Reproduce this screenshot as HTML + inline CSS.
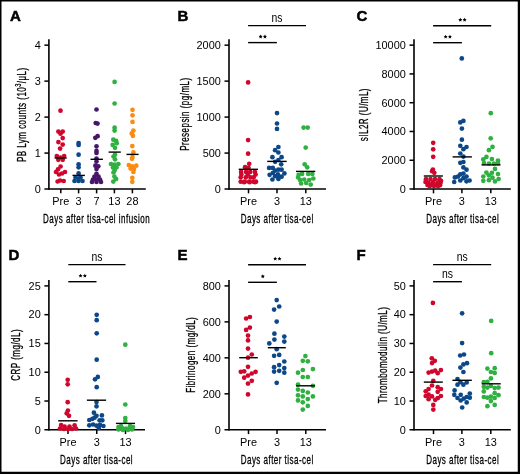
<!DOCTYPE html>
<html><head><meta charset="utf-8"><style>
html,body{margin:0;padding:0;background:#fff;}
body{width:520px;height:474px;overflow:hidden;position:relative;}
svg{position:absolute;left:0;top:0;will-change:transform;}
text{font-family:"Liberation Sans", sans-serif;fill:#000;}
</style></head><body>
<svg width="520" height="474" viewBox="0 0 520 474">
<rect x="0" y="0" width="520" height="474" fill="#fff"/>
<text transform="translate(10.10,21.10)" font-size="15.0" text-anchor="start" font-weight="bold" stroke="#000" stroke-width="0.5">A</text>
<line x1="48.90" y1="39.15" x2="48.90" y2="189.70" stroke="#000" stroke-width="1.6"/>
<line x1="44.40" y1="189.05" x2="145.80" y2="189.05" stroke="#000" stroke-width="1.6"/>
<text transform="translate(40.70,192.85)" font-size="10.9" text-anchor="end" font-weight="normal" >0</text>
<line x1="44.40" y1="153.08" x2="48.90" y2="153.08" stroke="#000" stroke-width="1.5"/>
<text transform="translate(40.70,156.88)" font-size="10.9" text-anchor="end" font-weight="normal" >1</text>
<line x1="44.40" y1="117.10" x2="48.90" y2="117.10" stroke="#000" stroke-width="1.5"/>
<text transform="translate(40.70,120.90)" font-size="10.9" text-anchor="end" font-weight="normal" >2</text>
<line x1="44.40" y1="81.12" x2="48.90" y2="81.12" stroke="#000" stroke-width="1.5"/>
<text transform="translate(40.70,84.92)" font-size="10.9" text-anchor="end" font-weight="normal" >3</text>
<line x1="44.40" y1="45.15" x2="48.90" y2="45.15" stroke="#000" stroke-width="1.5"/>
<text transform="translate(40.70,48.95)" font-size="10.9" text-anchor="end" font-weight="normal" >4</text>
<line x1="60.80" y1="189.05" x2="60.80" y2="193.35" stroke="#000" stroke-width="1.5"/>
<text transform="translate(60.80,205.05)" font-size="10.9" text-anchor="middle" font-weight="normal" >Pre</text>
<line x1="78.60" y1="189.05" x2="78.60" y2="193.35" stroke="#000" stroke-width="1.5"/>
<text transform="translate(78.60,205.05)" font-size="10.9" text-anchor="middle" font-weight="normal" >3</text>
<line x1="96.60" y1="189.05" x2="96.60" y2="193.35" stroke="#000" stroke-width="1.5"/>
<text transform="translate(96.60,205.05)" font-size="10.9" text-anchor="middle" font-weight="normal" >7</text>
<line x1="114.40" y1="189.05" x2="114.40" y2="193.35" stroke="#000" stroke-width="1.5"/>
<text transform="translate(114.40,205.05)" font-size="10.9" text-anchor="middle" font-weight="normal" >13</text>
<line x1="132.40" y1="189.05" x2="132.40" y2="193.35" stroke="#000" stroke-width="1.5"/>
<text transform="translate(132.40,205.05)" font-size="10.9" text-anchor="middle" font-weight="normal" >28</text>
<text transform="translate(26.20,114.70) rotate(-90) scale(0.63,1)" font-size="12.7" text-anchor="middle" font-weight="normal" stroke="#000" stroke-width="0.3" letter-spacing="0.75">PB Lym counts (10<tspan dy="-5.5" font-size="9">3</tspan><tspan dy="5.5">/μL)</tspan></text>
<text transform="translate(96.60,223.05) scale(0.63,1)" font-size="12.7" text-anchor="middle" font-weight="normal" stroke="#000" stroke-width="0.3" letter-spacing="0.75">Days after tisa-cel infusion</text>
<text transform="translate(177.40,21.40)" font-size="15.0" text-anchor="start" font-weight="bold" stroke="#000" stroke-width="0.5">B</text>
<line x1="229.00" y1="39.15" x2="229.00" y2="189.70" stroke="#000" stroke-width="1.6"/>
<line x1="224.50" y1="189.05" x2="326.00" y2="189.05" stroke="#000" stroke-width="1.6"/>
<text transform="translate(220.80,192.85)" font-size="10.9" text-anchor="end" font-weight="normal" >0</text>
<line x1="224.50" y1="153.08" x2="229.00" y2="153.08" stroke="#000" stroke-width="1.5"/>
<text transform="translate(220.80,156.88)" font-size="10.9" text-anchor="end" font-weight="normal" >500</text>
<line x1="224.50" y1="117.10" x2="229.00" y2="117.10" stroke="#000" stroke-width="1.5"/>
<text transform="translate(220.80,120.90)" font-size="10.9" text-anchor="end" font-weight="normal" >1000</text>
<line x1="224.50" y1="81.12" x2="229.00" y2="81.12" stroke="#000" stroke-width="1.5"/>
<text transform="translate(220.80,84.92)" font-size="10.9" text-anchor="end" font-weight="normal" >1500</text>
<line x1="224.50" y1="45.15" x2="229.00" y2="45.15" stroke="#000" stroke-width="1.5"/>
<text transform="translate(220.80,48.95)" font-size="10.9" text-anchor="end" font-weight="normal" >2000</text>
<line x1="248.50" y1="189.05" x2="248.50" y2="193.35" stroke="#000" stroke-width="1.5"/>
<text transform="translate(248.50,205.05)" font-size="10.9" text-anchor="middle" font-weight="normal" >Pre</text>
<line x1="277.00" y1="189.05" x2="277.00" y2="193.35" stroke="#000" stroke-width="1.5"/>
<text transform="translate(277.00,205.05)" font-size="10.9" text-anchor="middle" font-weight="normal" >3</text>
<line x1="305.80" y1="189.05" x2="305.80" y2="193.35" stroke="#000" stroke-width="1.5"/>
<text transform="translate(305.80,205.05)" font-size="10.9" text-anchor="middle" font-weight="normal" >13</text>
<text transform="translate(188.70,114.10) rotate(-90) scale(0.63,1)" font-size="12.7" text-anchor="middle" font-weight="normal" stroke="#000" stroke-width="0.3" letter-spacing="0.75">Presepsin (pg/mL)</text>
<text transform="translate(277.20,223.05) scale(0.63,1)" font-size="12.7" text-anchor="middle" font-weight="normal" stroke="#000" stroke-width="0.3" letter-spacing="0.75">Days after tisa-cel</text>
<line x1="248.10" y1="25.60" x2="306.00" y2="25.60" stroke="#000" stroke-width="1.4"/>
<text transform="translate(277.05,21.70) scale(0.82,1)" font-size="12.7" text-anchor="middle" font-weight="normal" >ns</text>
<line x1="248.10" y1="42.60" x2="276.90" y2="42.60" stroke="#000" stroke-width="1.4"/>
<polygon points="260.65,34.60 261.27,35.85 262.65,36.05 261.65,37.02 261.88,38.40 260.65,37.75 259.42,38.40 259.65,37.02 258.65,36.05 260.03,35.85" fill="#000"/>
<polygon points="264.95,34.60 265.57,35.85 266.95,36.05 265.95,37.02 266.18,38.40 264.95,37.75 263.72,38.40 263.95,37.02 262.95,36.05 264.33,35.85" fill="#000"/>
<text transform="translate(356.40,20.60)" font-size="15.0" text-anchor="start" font-weight="bold" stroke="#000" stroke-width="0.5">C</text>
<line x1="414.00" y1="39.15" x2="414.00" y2="189.70" stroke="#000" stroke-width="1.6"/>
<line x1="409.50" y1="189.05" x2="510.80" y2="189.05" stroke="#000" stroke-width="1.6"/>
<text transform="translate(405.80,192.85)" font-size="10.9" text-anchor="end" font-weight="normal" >0</text>
<line x1="409.50" y1="160.27" x2="414.00" y2="160.27" stroke="#000" stroke-width="1.5"/>
<text transform="translate(405.80,164.07)" font-size="10.9" text-anchor="end" font-weight="normal" >2000</text>
<line x1="409.50" y1="131.49" x2="414.00" y2="131.49" stroke="#000" stroke-width="1.5"/>
<text transform="translate(405.80,135.29)" font-size="10.9" text-anchor="end" font-weight="normal" >4000</text>
<line x1="409.50" y1="102.71" x2="414.00" y2="102.71" stroke="#000" stroke-width="1.5"/>
<text transform="translate(405.80,106.51)" font-size="10.9" text-anchor="end" font-weight="normal" >6000</text>
<line x1="409.50" y1="73.93" x2="414.00" y2="73.93" stroke="#000" stroke-width="1.5"/>
<text transform="translate(405.80,77.73)" font-size="10.9" text-anchor="end" font-weight="normal" >8000</text>
<line x1="409.50" y1="45.15" x2="414.00" y2="45.15" stroke="#000" stroke-width="1.5"/>
<text transform="translate(405.80,48.95)" font-size="10.9" text-anchor="end" font-weight="normal" >10000</text>
<line x1="433.50" y1="189.05" x2="433.50" y2="193.35" stroke="#000" stroke-width="1.5"/>
<text transform="translate(433.50,205.05)" font-size="10.9" text-anchor="middle" font-weight="normal" >Pre</text>
<line x1="461.90" y1="189.05" x2="461.90" y2="193.35" stroke="#000" stroke-width="1.5"/>
<text transform="translate(461.90,205.05)" font-size="10.9" text-anchor="middle" font-weight="normal" >3</text>
<line x1="490.80" y1="189.05" x2="490.80" y2="193.35" stroke="#000" stroke-width="1.5"/>
<text transform="translate(490.80,205.05)" font-size="10.9" text-anchor="middle" font-weight="normal" >13</text>
<text transform="translate(368.30,114.60) rotate(-90) scale(0.63,1)" font-size="12.7" text-anchor="middle" font-weight="normal" stroke="#000" stroke-width="0.3" letter-spacing="0.75">sIL2R (U/mL)</text>
<text transform="translate(462.70,223.05) scale(0.63,1)" font-size="12.7" text-anchor="middle" font-weight="normal" stroke="#000" stroke-width="0.3" letter-spacing="0.75">Days after tisa-cel</text>
<line x1="433.10" y1="25.80" x2="491.20" y2="25.80" stroke="#000" stroke-width="1.4"/>
<polygon points="460.30,17.80 460.92,19.05 462.30,19.25 461.30,20.22 461.53,21.60 460.30,20.95 459.07,21.60 459.30,20.22 458.30,19.25 459.68,19.05" fill="#000"/>
<polygon points="464.60,17.80 465.22,19.05 466.60,19.25 465.60,20.22 465.83,21.60 464.60,20.95 463.37,21.60 463.60,20.22 462.60,19.25 463.98,19.05" fill="#000"/>
<line x1="433.10" y1="42.70" x2="461.90" y2="42.70" stroke="#000" stroke-width="1.4"/>
<polygon points="445.65,34.70 446.27,35.95 447.65,36.15 446.65,37.12 446.88,38.50 445.65,37.85 444.42,38.50 444.65,37.12 443.65,36.15 445.03,35.95" fill="#000"/>
<polygon points="449.95,34.70 450.57,35.95 451.95,36.15 450.95,37.12 451.18,38.50 449.95,37.85 448.72,38.50 448.95,37.12 447.95,36.15 449.33,35.95" fill="#000"/>
<text transform="translate(8.50,260.00)" font-size="15.0" text-anchor="start" font-weight="bold" stroke="#000" stroke-width="0.5">D</text>
<line x1="48.90" y1="279.90" x2="48.90" y2="430.45" stroke="#000" stroke-width="1.6"/>
<line x1="44.40" y1="429.80" x2="145.00" y2="429.80" stroke="#000" stroke-width="1.6"/>
<text transform="translate(40.70,433.60)" font-size="10.9" text-anchor="end" font-weight="normal" >0</text>
<line x1="44.40" y1="401.02" x2="48.90" y2="401.02" stroke="#000" stroke-width="1.5"/>
<text transform="translate(40.70,404.82)" font-size="10.9" text-anchor="end" font-weight="normal" >5</text>
<line x1="44.40" y1="372.24" x2="48.90" y2="372.24" stroke="#000" stroke-width="1.5"/>
<text transform="translate(40.70,376.04)" font-size="10.9" text-anchor="end" font-weight="normal" >10</text>
<line x1="44.40" y1="343.46" x2="48.90" y2="343.46" stroke="#000" stroke-width="1.5"/>
<text transform="translate(40.70,347.26)" font-size="10.9" text-anchor="end" font-weight="normal" >15</text>
<line x1="44.40" y1="314.68" x2="48.90" y2="314.68" stroke="#000" stroke-width="1.5"/>
<text transform="translate(40.70,318.48)" font-size="10.9" text-anchor="end" font-weight="normal" >20</text>
<line x1="44.40" y1="285.90" x2="48.90" y2="285.90" stroke="#000" stroke-width="1.5"/>
<text transform="translate(40.70,289.70)" font-size="10.9" text-anchor="end" font-weight="normal" >25</text>
<line x1="68.00" y1="429.80" x2="68.00" y2="434.10" stroke="#000" stroke-width="1.5"/>
<text transform="translate(68.00,445.80)" font-size="10.9" text-anchor="middle" font-weight="normal" >Pre</text>
<line x1="96.75" y1="429.80" x2="96.75" y2="434.10" stroke="#000" stroke-width="1.5"/>
<text transform="translate(96.75,445.80)" font-size="10.9" text-anchor="middle" font-weight="normal" >3</text>
<line x1="125.50" y1="429.80" x2="125.50" y2="434.10" stroke="#000" stroke-width="1.5"/>
<text transform="translate(125.50,445.80)" font-size="10.9" text-anchor="middle" font-weight="normal" >13</text>
<text transform="translate(20.20,354.80) rotate(-90) scale(0.63,1)" font-size="12.7" text-anchor="middle" font-weight="normal" stroke="#000" stroke-width="0.3" letter-spacing="0.75">CRP (mg/dL)</text>
<text transform="translate(96.60,463.80) scale(0.63,1)" font-size="12.7" text-anchor="middle" font-weight="normal" stroke="#000" stroke-width="0.3" letter-spacing="0.75">Days after tisa-cel</text>
<line x1="68.30" y1="264.60" x2="125.50" y2="264.60" stroke="#000" stroke-width="1.4"/>
<text transform="translate(96.90,260.70) scale(0.82,1)" font-size="12.7" text-anchor="middle" font-weight="normal" >ns</text>
<line x1="68.30" y1="281.70" x2="96.50" y2="281.70" stroke="#000" stroke-width="1.4"/>
<polygon points="80.55,273.70 81.17,274.95 82.55,275.15 81.55,276.12 81.78,277.50 80.55,276.85 79.32,277.50 79.55,276.12 78.55,275.15 79.93,274.95" fill="#000"/>
<polygon points="84.85,273.70 85.47,274.95 86.85,275.15 85.85,276.12 86.08,277.50 84.85,276.85 83.62,277.50 83.85,276.12 82.85,275.15 84.23,274.95" fill="#000"/>
<text transform="translate(177.40,260.40)" font-size="15.0" text-anchor="start" font-weight="bold" stroke="#000" stroke-width="0.5">E</text>
<line x1="229.00" y1="279.90" x2="229.00" y2="430.45" stroke="#000" stroke-width="1.6"/>
<line x1="224.50" y1="429.80" x2="326.00" y2="429.80" stroke="#000" stroke-width="1.6"/>
<text transform="translate(220.80,433.60)" font-size="10.9" text-anchor="end" font-weight="normal" >0</text>
<line x1="224.50" y1="393.82" x2="229.00" y2="393.82" stroke="#000" stroke-width="1.5"/>
<text transform="translate(220.80,397.62)" font-size="10.9" text-anchor="end" font-weight="normal" >200</text>
<line x1="224.50" y1="357.85" x2="229.00" y2="357.85" stroke="#000" stroke-width="1.5"/>
<text transform="translate(220.80,361.65)" font-size="10.9" text-anchor="end" font-weight="normal" >400</text>
<line x1="224.50" y1="321.88" x2="229.00" y2="321.88" stroke="#000" stroke-width="1.5"/>
<text transform="translate(220.80,325.68)" font-size="10.9" text-anchor="end" font-weight="normal" >600</text>
<line x1="224.50" y1="285.90" x2="229.00" y2="285.90" stroke="#000" stroke-width="1.5"/>
<text transform="translate(220.80,289.70)" font-size="10.9" text-anchor="end" font-weight="normal" >800</text>
<line x1="248.50" y1="429.80" x2="248.50" y2="434.10" stroke="#000" stroke-width="1.5"/>
<text transform="translate(248.50,445.80)" font-size="10.9" text-anchor="middle" font-weight="normal" >Pre</text>
<line x1="277.00" y1="429.80" x2="277.00" y2="434.10" stroke="#000" stroke-width="1.5"/>
<text transform="translate(277.00,445.80)" font-size="10.9" text-anchor="middle" font-weight="normal" >3</text>
<line x1="305.80" y1="429.80" x2="305.80" y2="434.10" stroke="#000" stroke-width="1.5"/>
<text transform="translate(305.80,445.80)" font-size="10.9" text-anchor="middle" font-weight="normal" >13</text>
<text transform="translate(195.20,354.80) rotate(-90) scale(0.63,1)" font-size="12.7" text-anchor="middle" font-weight="normal" stroke="#000" stroke-width="0.3" letter-spacing="0.75">Fibrinogen (mg/dL)</text>
<text transform="translate(277.20,463.80) scale(0.63,1)" font-size="12.7" text-anchor="middle" font-weight="normal" stroke="#000" stroke-width="0.3" letter-spacing="0.75">Days after tisa-cel</text>
<line x1="248.10" y1="264.70" x2="306.00" y2="264.70" stroke="#000" stroke-width="1.4"/>
<polygon points="275.20,256.70 275.82,257.95 277.20,258.15 276.20,259.12 276.43,260.50 275.20,259.85 273.97,260.50 274.20,259.12 273.20,258.15 274.58,257.95" fill="#000"/>
<polygon points="279.50,256.70 280.12,257.95 281.50,258.15 280.50,259.12 280.73,260.50 279.50,259.85 278.27,260.50 278.50,259.12 277.50,258.15 278.88,257.95" fill="#000"/>
<line x1="248.10" y1="282.30" x2="276.90" y2="282.30" stroke="#000" stroke-width="1.4"/>
<polygon points="262.80,274.30 263.42,275.55 264.80,275.75 263.80,276.72 264.03,278.10 262.80,277.45 261.57,278.10 261.80,276.72 260.80,275.75 262.18,275.55" fill="#000"/>
<text transform="translate(356.50,260.40)" font-size="15.0" text-anchor="start" font-weight="bold" stroke="#000" stroke-width="0.5">F</text>
<line x1="414.00" y1="279.90" x2="414.00" y2="430.45" stroke="#000" stroke-width="1.6"/>
<line x1="409.50" y1="429.80" x2="510.80" y2="429.80" stroke="#000" stroke-width="1.6"/>
<text transform="translate(405.80,433.60)" font-size="10.9" text-anchor="end" font-weight="normal" >0</text>
<line x1="409.50" y1="401.02" x2="414.00" y2="401.02" stroke="#000" stroke-width="1.5"/>
<text transform="translate(405.80,404.82)" font-size="10.9" text-anchor="end" font-weight="normal" >10</text>
<line x1="409.50" y1="372.24" x2="414.00" y2="372.24" stroke="#000" stroke-width="1.5"/>
<text transform="translate(405.80,376.04)" font-size="10.9" text-anchor="end" font-weight="normal" >20</text>
<line x1="409.50" y1="343.46" x2="414.00" y2="343.46" stroke="#000" stroke-width="1.5"/>
<text transform="translate(405.80,347.26)" font-size="10.9" text-anchor="end" font-weight="normal" >30</text>
<line x1="409.50" y1="314.68" x2="414.00" y2="314.68" stroke="#000" stroke-width="1.5"/>
<text transform="translate(405.80,318.48)" font-size="10.9" text-anchor="end" font-weight="normal" >40</text>
<line x1="409.50" y1="285.90" x2="414.00" y2="285.90" stroke="#000" stroke-width="1.5"/>
<text transform="translate(405.80,289.70)" font-size="10.9" text-anchor="end" font-weight="normal" >50</text>
<line x1="433.50" y1="429.80" x2="433.50" y2="434.10" stroke="#000" stroke-width="1.5"/>
<text transform="translate(433.50,445.80)" font-size="10.9" text-anchor="middle" font-weight="normal" >Pre</text>
<line x1="461.90" y1="429.80" x2="461.90" y2="434.10" stroke="#000" stroke-width="1.5"/>
<text transform="translate(461.90,445.80)" font-size="10.9" text-anchor="middle" font-weight="normal" >3</text>
<line x1="490.80" y1="429.80" x2="490.80" y2="434.10" stroke="#000" stroke-width="1.5"/>
<text transform="translate(490.80,445.80)" font-size="10.9" text-anchor="middle" font-weight="normal" >13</text>
<text transform="translate(387.40,355.00) rotate(-90) scale(0.63,1)" font-size="12.7" text-anchor="middle" font-weight="normal" stroke="#000" stroke-width="0.3" letter-spacing="0.75">Thrombomodulin (U/mL)</text>
<text transform="translate(462.70,463.80) scale(0.63,1)" font-size="12.7" text-anchor="middle" font-weight="normal" stroke="#000" stroke-width="0.3" letter-spacing="0.75">Days after tisa-cel</text>
<line x1="433.10" y1="264.60" x2="491.20" y2="264.60" stroke="#000" stroke-width="1.4"/>
<text transform="translate(462.15,260.70) scale(0.82,1)" font-size="12.7" text-anchor="middle" font-weight="normal" >ns</text>
<line x1="433.10" y1="281.70" x2="461.90" y2="281.70" stroke="#000" stroke-width="1.4"/>
<text transform="translate(447.50,277.80) scale(0.82,1)" font-size="12.7" text-anchor="middle" font-weight="normal" >ns</text>
<circle cx="60.5" cy="110.7" r="2.35" fill="#d0062c"/>
<circle cx="58.4" cy="131.6" r="2.35" fill="#d0062c"/>
<circle cx="62.7" cy="131.6" r="2.35" fill="#d0062c"/>
<circle cx="60.5" cy="133.7" r="2.35" fill="#d0062c"/>
<circle cx="62.7" cy="138.1" r="2.35" fill="#d0062c"/>
<circle cx="58.4" cy="142.1" r="2.35" fill="#d0062c"/>
<circle cx="62.7" cy="144.6" r="2.35" fill="#d0062c"/>
<circle cx="60.1" cy="148.6" r="2.35" fill="#d0062c"/>
<circle cx="56.8" cy="156.0" r="2.35" fill="#d0062c"/>
<circle cx="60.5" cy="157.5" r="2.35" fill="#d0062c"/>
<circle cx="64.2" cy="156.0" r="2.35" fill="#d0062c"/>
<circle cx="58.3" cy="159.8" r="2.35" fill="#d0062c"/>
<circle cx="62.7" cy="159.8" r="2.35" fill="#d0062c"/>
<circle cx="60.6" cy="166.5" r="2.35" fill="#d0062c"/>
<circle cx="58.0" cy="169.3" r="2.35" fill="#d0062c"/>
<circle cx="56.0" cy="172.0" r="2.35" fill="#d0062c"/>
<circle cx="59.0" cy="174.5" r="2.35" fill="#d0062c"/>
<circle cx="62.0" cy="173.5" r="2.35" fill="#d0062c"/>
<circle cx="65.0" cy="172.0" r="2.35" fill="#d0062c"/>
<circle cx="57.6" cy="181.5" r="2.35" fill="#d0062c"/>
<circle cx="60.1" cy="180.5" r="2.35" fill="#d0062c"/>
<circle cx="63.7" cy="181.0" r="2.35" fill="#d0062c"/>
<circle cx="78.6" cy="143.0" r="2.35" fill="#0c4788"/>
<circle cx="78.6" cy="145.0" r="2.35" fill="#0c4788"/>
<circle cx="78.6" cy="154.7" r="2.35" fill="#0c4788"/>
<circle cx="78.6" cy="164.3" r="2.35" fill="#0c4788"/>
<circle cx="78.6" cy="167.3" r="2.35" fill="#0c4788"/>
<circle cx="78.6" cy="173.4" r="2.35" fill="#0c4788"/>
<circle cx="75.5" cy="177.5" r="2.35" fill="#0c4788"/>
<circle cx="80.5" cy="177.5" r="2.35" fill="#0c4788"/>
<circle cx="74.5" cy="181.0" r="2.35" fill="#0c4788"/>
<circle cx="78.5" cy="181.0" r="2.35" fill="#0c4788"/>
<circle cx="82.5" cy="181.0" r="2.35" fill="#0c4788"/>
<circle cx="78.6" cy="178.5" r="2.35" fill="#0c4788"/>
<circle cx="96.5" cy="109.5" r="2.35" fill="#471668"/>
<circle cx="95.7" cy="123.0" r="2.35" fill="#471668"/>
<circle cx="97.5" cy="123.6" r="2.35" fill="#471668"/>
<circle cx="95.3" cy="137.8" r="2.35" fill="#471668"/>
<circle cx="97.6" cy="136.2" r="2.35" fill="#471668"/>
<circle cx="96.5" cy="146.3" r="2.35" fill="#471668"/>
<circle cx="96.5" cy="150.9" r="2.35" fill="#471668"/>
<circle cx="96.5" cy="153.0" r="2.35" fill="#471668"/>
<circle cx="96.5" cy="158.5" r="2.35" fill="#471668"/>
<circle cx="96.5" cy="161.6" r="2.35" fill="#471668"/>
<circle cx="95.4" cy="165.7" r="2.35" fill="#471668"/>
<circle cx="98.3" cy="166.3" r="2.35" fill="#471668"/>
<circle cx="96.5" cy="169.1" r="2.35" fill="#471668"/>
<circle cx="96.5" cy="173.8" r="2.35" fill="#471668"/>
<circle cx="94.5" cy="176.5" r="2.35" fill="#471668"/>
<circle cx="98.5" cy="176.5" r="2.35" fill="#471668"/>
<circle cx="93.0" cy="179.5" r="2.35" fill="#471668"/>
<circle cx="97.0" cy="179.5" r="2.35" fill="#471668"/>
<circle cx="100.0" cy="179.5" r="2.35" fill="#471668"/>
<circle cx="92.0" cy="182.0" r="2.35" fill="#471668"/>
<circle cx="96.5" cy="182.0" r="2.35" fill="#471668"/>
<circle cx="101.0" cy="182.0" r="2.35" fill="#471668"/>
<circle cx="114.6" cy="81.9" r="2.35" fill="#2fb040"/>
<circle cx="114.6" cy="103.5" r="2.35" fill="#2fb040"/>
<circle cx="114.6" cy="127.7" r="2.35" fill="#2fb040"/>
<circle cx="114.6" cy="130.6" r="2.35" fill="#2fb040"/>
<circle cx="113.3" cy="139.7" r="2.35" fill="#2fb040"/>
<circle cx="116.1" cy="140.9" r="2.35" fill="#2fb040"/>
<circle cx="116.7" cy="143.2" r="2.35" fill="#2fb040"/>
<circle cx="112.7" cy="144.9" r="2.35" fill="#2fb040"/>
<circle cx="115.0" cy="147.8" r="2.35" fill="#2fb040"/>
<circle cx="115.0" cy="154.7" r="2.35" fill="#2fb040"/>
<circle cx="113.5" cy="156.5" r="2.35" fill="#2fb040"/>
<circle cx="115.0" cy="159.3" r="2.35" fill="#2fb040"/>
<circle cx="111.0" cy="164.0" r="2.35" fill="#2fb040"/>
<circle cx="118.4" cy="164.0" r="2.35" fill="#2fb040"/>
<circle cx="114.6" cy="164.5" r="2.35" fill="#2fb040"/>
<circle cx="113.0" cy="167.5" r="2.35" fill="#2fb040"/>
<circle cx="116.5" cy="167.5" r="2.35" fill="#2fb040"/>
<circle cx="114.6" cy="170.5" r="2.35" fill="#2fb040"/>
<circle cx="113.5" cy="172.5" r="2.35" fill="#2fb040"/>
<circle cx="114.4" cy="176.6" r="2.35" fill="#2fb040"/>
<circle cx="116.1" cy="179.0" r="2.35" fill="#2fb040"/>
<circle cx="113.3" cy="181.6" r="2.35" fill="#2fb040"/>
<circle cx="132.5" cy="109.8" r="2.35" fill="#fb8c10"/>
<circle cx="132.5" cy="115.3" r="2.35" fill="#fb8c10"/>
<circle cx="132.5" cy="121.9" r="2.35" fill="#fb8c10"/>
<circle cx="133.4" cy="130.6" r="2.35" fill="#fb8c10"/>
<circle cx="131.7" cy="133.4" r="2.35" fill="#fb8c10"/>
<circle cx="132.9" cy="135.8" r="2.35" fill="#fb8c10"/>
<circle cx="132.3" cy="146.1" r="2.35" fill="#fb8c10"/>
<circle cx="133.4" cy="152.4" r="2.35" fill="#fb8c10"/>
<circle cx="132.5" cy="157.0" r="2.35" fill="#fb8c10"/>
<circle cx="132.0" cy="158.8" r="2.35" fill="#fb8c10"/>
<circle cx="128.8" cy="165.1" r="2.35" fill="#fb8c10"/>
<circle cx="136.3" cy="165.7" r="2.35" fill="#fb8c10"/>
<circle cx="132.3" cy="166.3" r="2.35" fill="#fb8c10"/>
<circle cx="130.6" cy="168.6" r="2.35" fill="#fb8c10"/>
<circle cx="134.0" cy="169.0" r="2.35" fill="#fb8c10"/>
<circle cx="133.4" cy="172.0" r="2.35" fill="#fb8c10"/>
<circle cx="132.3" cy="177.8" r="2.35" fill="#fb8c10"/>
<circle cx="132.3" cy="181.8" r="2.35" fill="#fb8c10"/>
<circle cx="248.1" cy="82.4" r="2.35" fill="#d0062c"/>
<circle cx="248.1" cy="140.1" r="2.35" fill="#d0062c"/>
<circle cx="248.1" cy="153.7" r="2.35" fill="#d0062c"/>
<circle cx="249.2" cy="163.8" r="2.35" fill="#d0062c"/>
<circle cx="245.1" cy="167.2" r="2.35" fill="#d0062c"/>
<circle cx="248.5" cy="167.8" r="2.35" fill="#d0062c"/>
<circle cx="241.1" cy="171.9" r="2.35" fill="#d0062c"/>
<circle cx="246.1" cy="171.9" r="2.35" fill="#d0062c"/>
<circle cx="250.2" cy="171.9" r="2.35" fill="#d0062c"/>
<circle cx="254.9" cy="171.9" r="2.35" fill="#d0062c"/>
<circle cx="241.4" cy="174.6" r="2.35" fill="#d0062c"/>
<circle cx="247.8" cy="174.6" r="2.35" fill="#d0062c"/>
<circle cx="255.6" cy="174.6" r="2.35" fill="#d0062c"/>
<circle cx="240.7" cy="177.3" r="2.35" fill="#d0062c"/>
<circle cx="245.8" cy="177.3" r="2.35" fill="#d0062c"/>
<circle cx="250.5" cy="177.3" r="2.35" fill="#d0062c"/>
<circle cx="253.6" cy="177.3" r="2.35" fill="#d0062c"/>
<circle cx="240.7" cy="181.7" r="2.35" fill="#d0062c"/>
<circle cx="244.8" cy="181.7" r="2.35" fill="#d0062c"/>
<circle cx="249.2" cy="181.7" r="2.35" fill="#d0062c"/>
<circle cx="253.2" cy="181.7" r="2.35" fill="#d0062c"/>
<circle cx="256.0" cy="181.7" r="2.35" fill="#d0062c"/>
<circle cx="244.0" cy="182.2" r="2.35" fill="#d0062c"/>
<circle cx="249.5" cy="182.2" r="2.35" fill="#d0062c"/>
<circle cx="255.0" cy="182.2" r="2.35" fill="#d0062c"/>
<circle cx="277.0" cy="113.1" r="2.35" fill="#0c4788"/>
<circle cx="277.0" cy="123.5" r="2.35" fill="#0c4788"/>
<circle cx="277.0" cy="128.9" r="2.35" fill="#0c4788"/>
<circle cx="278.4" cy="147.0" r="2.35" fill="#0c4788"/>
<circle cx="275.1" cy="150.2" r="2.35" fill="#0c4788"/>
<circle cx="278.4" cy="152.5" r="2.35" fill="#0c4788"/>
<circle cx="272.4" cy="157.2" r="2.35" fill="#0c4788"/>
<circle cx="281.6" cy="157.2" r="2.35" fill="#0c4788"/>
<circle cx="275.1" cy="161.8" r="2.35" fill="#0c4788"/>
<circle cx="278.4" cy="160.0" r="2.35" fill="#0c4788"/>
<circle cx="281.2" cy="164.3" r="2.35" fill="#0c4788"/>
<circle cx="269.1" cy="167.9" r="2.35" fill="#0c4788"/>
<circle cx="272.8" cy="167.9" r="2.35" fill="#0c4788"/>
<circle cx="278.4" cy="169.7" r="2.35" fill="#0c4788"/>
<circle cx="281.6" cy="169.7" r="2.35" fill="#0c4788"/>
<circle cx="275.1" cy="170.6" r="2.35" fill="#0c4788"/>
<circle cx="272.8" cy="173.0" r="2.35" fill="#0c4788"/>
<circle cx="284.4" cy="173.4" r="2.35" fill="#0c4788"/>
<circle cx="269.6" cy="174.8" r="2.35" fill="#0c4788"/>
<circle cx="277.9" cy="174.4" r="2.35" fill="#0c4788"/>
<circle cx="281.6" cy="176.7" r="2.35" fill="#0c4788"/>
<circle cx="275.1" cy="176.2" r="2.35" fill="#0c4788"/>
<circle cx="278.4" cy="177.6" r="2.35" fill="#0c4788"/>
<circle cx="272.4" cy="179.5" r="2.35" fill="#0c4788"/>
<circle cx="278.4" cy="179.0" r="2.35" fill="#0c4788"/>
<circle cx="303.6" cy="127.6" r="2.35" fill="#2fb040"/>
<circle cx="307.7" cy="127.6" r="2.35" fill="#2fb040"/>
<circle cx="305.7" cy="147.6" r="2.35" fill="#2fb040"/>
<circle cx="304.7" cy="164.3" r="2.35" fill="#2fb040"/>
<circle cx="307.2" cy="167.3" r="2.35" fill="#2fb040"/>
<circle cx="298.6" cy="174.9" r="2.35" fill="#2fb040"/>
<circle cx="302.1" cy="173.9" r="2.35" fill="#2fb040"/>
<circle cx="308.2" cy="173.9" r="2.35" fill="#2fb040"/>
<circle cx="312.3" cy="173.9" r="2.35" fill="#2fb040"/>
<circle cx="298.1" cy="177.5" r="2.35" fill="#2fb040"/>
<circle cx="313.3" cy="178.5" r="2.35" fill="#2fb040"/>
<circle cx="300.1" cy="180.0" r="2.35" fill="#2fb040"/>
<circle cx="304.2" cy="179.5" r="2.35" fill="#2fb040"/>
<circle cx="309.2" cy="180.0" r="2.35" fill="#2fb040"/>
<circle cx="301.1" cy="183.5" r="2.35" fill="#2fb040"/>
<circle cx="306.2" cy="183.0" r="2.35" fill="#2fb040"/>
<circle cx="310.7" cy="184.6" r="2.35" fill="#2fb040"/>
<circle cx="433.2" cy="142.8" r="2.35" fill="#d0062c"/>
<circle cx="433.2" cy="149.3" r="2.35" fill="#d0062c"/>
<circle cx="433.2" cy="156.8" r="2.35" fill="#d0062c"/>
<circle cx="432.9" cy="169.6" r="2.35" fill="#d0062c"/>
<circle cx="432.1" cy="171.2" r="2.35" fill="#d0062c"/>
<circle cx="434.3" cy="172.8" r="2.35" fill="#d0062c"/>
<circle cx="426.0" cy="179.2" r="2.35" fill="#d0062c"/>
<circle cx="430.5" cy="179.0" r="2.35" fill="#d0062c"/>
<circle cx="435.0" cy="179.0" r="2.35" fill="#d0062c"/>
<circle cx="439.5" cy="179.2" r="2.35" fill="#d0062c"/>
<circle cx="441.0" cy="180.8" r="2.35" fill="#d0062c"/>
<circle cx="425.5" cy="182.0" r="2.35" fill="#d0062c"/>
<circle cx="428.5" cy="182.5" r="2.35" fill="#d0062c"/>
<circle cx="433.0" cy="182.0" r="2.35" fill="#d0062c"/>
<circle cx="437.5" cy="182.5" r="2.35" fill="#d0062c"/>
<circle cx="440.5" cy="183.0" r="2.35" fill="#d0062c"/>
<circle cx="427.5" cy="185.0" r="2.35" fill="#d0062c"/>
<circle cx="431.5" cy="185.2" r="2.35" fill="#d0062c"/>
<circle cx="436.0" cy="185.0" r="2.35" fill="#d0062c"/>
<circle cx="440.0" cy="185.2" r="2.35" fill="#d0062c"/>
<circle cx="429.5" cy="186.0" r="2.35" fill="#d0062c"/>
<circle cx="434.0" cy="186.0" r="2.35" fill="#d0062c"/>
<circle cx="438.0" cy="186.0" r="2.35" fill="#d0062c"/>
<circle cx="461.8" cy="58.4" r="2.35" fill="#0c4788"/>
<circle cx="463.4" cy="120.9" r="2.35" fill="#0c4788"/>
<circle cx="460.3" cy="122.4" r="2.35" fill="#0c4788"/>
<circle cx="461.9" cy="128.6" r="2.35" fill="#0c4788"/>
<circle cx="461.9" cy="139.7" r="2.35" fill="#0c4788"/>
<circle cx="460.3" cy="145.8" r="2.35" fill="#0c4788"/>
<circle cx="466.5" cy="147.0" r="2.35" fill="#0c4788"/>
<circle cx="463.4" cy="149.2" r="2.35" fill="#0c4788"/>
<circle cx="460.3" cy="153.5" r="2.35" fill="#0c4788"/>
<circle cx="463.4" cy="156.6" r="2.35" fill="#0c4788"/>
<circle cx="460.3" cy="162.8" r="2.35" fill="#0c4788"/>
<circle cx="463.4" cy="162.0" r="2.35" fill="#0c4788"/>
<circle cx="463.4" cy="167.4" r="2.35" fill="#0c4788"/>
<circle cx="466.5" cy="169.7" r="2.35" fill="#0c4788"/>
<circle cx="463.4" cy="173.6" r="2.35" fill="#0c4788"/>
<circle cx="460.3" cy="174.3" r="2.35" fill="#0c4788"/>
<circle cx="454.9" cy="177.4" r="2.35" fill="#0c4788"/>
<circle cx="458.0" cy="176.6" r="2.35" fill="#0c4788"/>
<circle cx="466.5" cy="176.6" r="2.35" fill="#0c4788"/>
<circle cx="463.4" cy="178.2" r="2.35" fill="#0c4788"/>
<circle cx="454.2" cy="182.0" r="2.35" fill="#0c4788"/>
<circle cx="460.3" cy="180.5" r="2.35" fill="#0c4788"/>
<circle cx="466.5" cy="181.3" r="2.35" fill="#0c4788"/>
<circle cx="469.6" cy="180.5" r="2.35" fill="#0c4788"/>
<circle cx="490.8" cy="113.2" r="2.35" fill="#2fb040"/>
<circle cx="490.7" cy="138.3" r="2.35" fill="#2fb040"/>
<circle cx="492.5" cy="146.9" r="2.35" fill="#2fb040"/>
<circle cx="488.9" cy="150.2" r="2.35" fill="#2fb040"/>
<circle cx="486.4" cy="156.9" r="2.35" fill="#2fb040"/>
<circle cx="483.3" cy="159.4" r="2.35" fill="#2fb040"/>
<circle cx="491.9" cy="159.1" r="2.35" fill="#2fb040"/>
<circle cx="498.0" cy="160.6" r="2.35" fill="#2fb040"/>
<circle cx="484.0" cy="163.0" r="2.35" fill="#2fb040"/>
<circle cx="489.0" cy="163.5" r="2.35" fill="#2fb040"/>
<circle cx="494.0" cy="163.5" r="2.35" fill="#2fb040"/>
<circle cx="498.0" cy="163.0" r="2.35" fill="#2fb040"/>
<circle cx="495.0" cy="168.9" r="2.35" fill="#2fb040"/>
<circle cx="486.4" cy="172.6" r="2.35" fill="#2fb040"/>
<circle cx="491.9" cy="172.8" r="2.35" fill="#2fb040"/>
<circle cx="498.0" cy="174.1" r="2.35" fill="#2fb040"/>
<circle cx="483.3" cy="176.5" r="2.35" fill="#2fb040"/>
<circle cx="488.9" cy="175.3" r="2.35" fill="#2fb040"/>
<circle cx="492.5" cy="177.7" r="2.35" fill="#2fb040"/>
<circle cx="498.6" cy="179.0" r="2.35" fill="#2fb040"/>
<circle cx="483.3" cy="180.8" r="2.35" fill="#2fb040"/>
<circle cx="488.9" cy="180.2" r="2.35" fill="#2fb040"/>
<circle cx="495.0" cy="181.4" r="2.35" fill="#2fb040"/>
<circle cx="67.7" cy="379.8" r="2.35" fill="#d0062c"/>
<circle cx="67.7" cy="384.3" r="2.35" fill="#d0062c"/>
<circle cx="67.7" cy="402.2" r="2.35" fill="#d0062c"/>
<circle cx="67.9" cy="410.5" r="2.35" fill="#d0062c"/>
<circle cx="66.7" cy="413.3" r="2.35" fill="#d0062c"/>
<circle cx="69.0" cy="415.8" r="2.35" fill="#d0062c"/>
<circle cx="61.1" cy="425.1" r="2.35" fill="#d0062c"/>
<circle cx="64.6" cy="426.5" r="2.35" fill="#d0062c"/>
<circle cx="69.5" cy="426.5" r="2.35" fill="#d0062c"/>
<circle cx="74.6" cy="425.3" r="2.35" fill="#d0062c"/>
<circle cx="60.0" cy="428.5" r="2.35" fill="#d0062c"/>
<circle cx="64.0" cy="429.0" r="2.35" fill="#d0062c"/>
<circle cx="68.0" cy="429.0" r="2.35" fill="#d0062c"/>
<circle cx="72.0" cy="429.0" r="2.35" fill="#d0062c"/>
<circle cx="76.0" cy="428.5" r="2.35" fill="#d0062c"/>
<circle cx="96.7" cy="314.8" r="2.35" fill="#0c4788"/>
<circle cx="96.7" cy="320.2" r="2.35" fill="#0c4788"/>
<circle cx="96.7" cy="333.3" r="2.35" fill="#0c4788"/>
<circle cx="96.7" cy="359.7" r="2.35" fill="#0c4788"/>
<circle cx="97.8" cy="376.9" r="2.35" fill="#0c4788"/>
<circle cx="95.0" cy="379.3" r="2.35" fill="#0c4788"/>
<circle cx="96.7" cy="387.2" r="2.35" fill="#0c4788"/>
<circle cx="96.5" cy="402.1" r="2.35" fill="#0c4788"/>
<circle cx="96.5" cy="406.3" r="2.35" fill="#0c4788"/>
<circle cx="93.9" cy="412.7" r="2.35" fill="#0c4788"/>
<circle cx="96.5" cy="415.8" r="2.35" fill="#0c4788"/>
<circle cx="101.9" cy="415.4" r="2.35" fill="#0c4788"/>
<circle cx="89.3" cy="420.0" r="2.35" fill="#0c4788"/>
<circle cx="92.4" cy="418.8" r="2.35" fill="#0c4788"/>
<circle cx="94.6" cy="417.7" r="2.35" fill="#0c4788"/>
<circle cx="99.6" cy="420.3" r="2.35" fill="#0c4788"/>
<circle cx="102.3" cy="420.3" r="2.35" fill="#0c4788"/>
<circle cx="89.3" cy="425.3" r="2.35" fill="#0c4788"/>
<circle cx="93.1" cy="424.5" r="2.35" fill="#0c4788"/>
<circle cx="96.5" cy="425.7" r="2.35" fill="#0c4788"/>
<circle cx="100.0" cy="424.9" r="2.35" fill="#0c4788"/>
<circle cx="103.4" cy="426.0" r="2.35" fill="#0c4788"/>
<circle cx="98.8" cy="427.9" r="2.35" fill="#0c4788"/>
<circle cx="125.3" cy="344.7" r="2.35" fill="#2fb040"/>
<circle cx="125.3" cy="404.5" r="2.35" fill="#2fb040"/>
<circle cx="125.3" cy="418.1" r="2.35" fill="#2fb040"/>
<circle cx="125.3" cy="421.0" r="2.35" fill="#2fb040"/>
<circle cx="118.5" cy="427.0" r="2.35" fill="#2fb040"/>
<circle cx="122.0" cy="428.0" r="2.35" fill="#2fb040"/>
<circle cx="126.0" cy="428.5" r="2.35" fill="#2fb040"/>
<circle cx="130.0" cy="428.0" r="2.35" fill="#2fb040"/>
<circle cx="133.0" cy="427.0" r="2.35" fill="#2fb040"/>
<circle cx="118.5" cy="429.5" r="2.35" fill="#2fb040"/>
<circle cx="123.0" cy="430.0" r="2.35" fill="#2fb040"/>
<circle cx="128.0" cy="430.0" r="2.35" fill="#2fb040"/>
<circle cx="132.0" cy="429.5" r="2.35" fill="#2fb040"/>
<circle cx="121.0" cy="426.0" r="2.35" fill="#2fb040"/>
<circle cx="130.0" cy="426.0" r="2.35" fill="#2fb040"/>
<circle cx="246.1" cy="318.5" r="2.35" fill="#d0062c"/>
<circle cx="249.9" cy="317.0" r="2.35" fill="#d0062c"/>
<circle cx="246.1" cy="329.9" r="2.35" fill="#d0062c"/>
<circle cx="249.9" cy="327.6" r="2.35" fill="#d0062c"/>
<circle cx="248.0" cy="335.6" r="2.35" fill="#d0062c"/>
<circle cx="248.0" cy="340.4" r="2.35" fill="#d0062c"/>
<circle cx="248.0" cy="348.6" r="2.35" fill="#d0062c"/>
<circle cx="251.8" cy="354.5" r="2.35" fill="#d0062c"/>
<circle cx="248.0" cy="357.7" r="2.35" fill="#d0062c"/>
<circle cx="248.0" cy="366.8" r="2.35" fill="#d0062c"/>
<circle cx="240.8" cy="371.8" r="2.35" fill="#d0062c"/>
<circle cx="244.2" cy="371.3" r="2.35" fill="#d0062c"/>
<circle cx="255.6" cy="371.8" r="2.35" fill="#d0062c"/>
<circle cx="251.8" cy="373.5" r="2.35" fill="#d0062c"/>
<circle cx="248.0" cy="375.6" r="2.35" fill="#d0062c"/>
<circle cx="244.2" cy="377.7" r="2.35" fill="#d0062c"/>
<circle cx="251.8" cy="380.8" r="2.35" fill="#d0062c"/>
<circle cx="248.0" cy="383.6" r="2.35" fill="#d0062c"/>
<circle cx="248.0" cy="394.4" r="2.35" fill="#d0062c"/>
<circle cx="276.7" cy="300.1" r="2.35" fill="#0c4788"/>
<circle cx="279.2" cy="306.5" r="2.35" fill="#0c4788"/>
<circle cx="274.1" cy="309.6" r="2.35" fill="#0c4788"/>
<circle cx="276.7" cy="321.6" r="2.35" fill="#0c4788"/>
<circle cx="274.4" cy="333.7" r="2.35" fill="#0c4788"/>
<circle cx="284.3" cy="336.6" r="2.35" fill="#0c4788"/>
<circle cx="274.4" cy="339.6" r="2.35" fill="#0c4788"/>
<circle cx="284.3" cy="341.6" r="2.35" fill="#0c4788"/>
<circle cx="269.3" cy="343.4" r="2.35" fill="#0c4788"/>
<circle cx="276.7" cy="349.2" r="2.35" fill="#0c4788"/>
<circle cx="274.1" cy="355.8" r="2.35" fill="#0c4788"/>
<circle cx="279.2" cy="354.9" r="2.35" fill="#0c4788"/>
<circle cx="284.3" cy="361.5" r="2.35" fill="#0c4788"/>
<circle cx="279.2" cy="365.1" r="2.35" fill="#0c4788"/>
<circle cx="274.1" cy="367.2" r="2.35" fill="#0c4788"/>
<circle cx="284.3" cy="368.1" r="2.35" fill="#0c4788"/>
<circle cx="274.1" cy="371.6" r="2.35" fill="#0c4788"/>
<circle cx="279.2" cy="370.8" r="2.35" fill="#0c4788"/>
<circle cx="284.3" cy="372.7" r="2.35" fill="#0c4788"/>
<circle cx="276.7" cy="382.8" r="2.35" fill="#0c4788"/>
<circle cx="305.4" cy="356.1" r="2.35" fill="#2fb040"/>
<circle cx="302.8" cy="360.8" r="2.35" fill="#2fb040"/>
<circle cx="307.8" cy="361.3" r="2.35" fill="#2fb040"/>
<circle cx="298.0" cy="372.7" r="2.35" fill="#2fb040"/>
<circle cx="302.8" cy="370.0" r="2.35" fill="#2fb040"/>
<circle cx="312.9" cy="369.1" r="2.35" fill="#2fb040"/>
<circle cx="302.8" cy="377.0" r="2.35" fill="#2fb040"/>
<circle cx="307.8" cy="377.0" r="2.35" fill="#2fb040"/>
<circle cx="298.0" cy="384.6" r="2.35" fill="#2fb040"/>
<circle cx="312.9" cy="385.8" r="2.35" fill="#2fb040"/>
<circle cx="298.0" cy="389.6" r="2.35" fill="#2fb040"/>
<circle cx="302.8" cy="390.9" r="2.35" fill="#2fb040"/>
<circle cx="307.8" cy="392.5" r="2.35" fill="#2fb040"/>
<circle cx="298.0" cy="395.3" r="2.35" fill="#2fb040"/>
<circle cx="302.8" cy="396.4" r="2.35" fill="#2fb040"/>
<circle cx="312.9" cy="396.4" r="2.35" fill="#2fb040"/>
<circle cx="298.0" cy="400.4" r="2.35" fill="#2fb040"/>
<circle cx="307.8" cy="399.1" r="2.35" fill="#2fb040"/>
<circle cx="302.8" cy="402.3" r="2.35" fill="#2fb040"/>
<circle cx="307.8" cy="405.9" r="2.35" fill="#2fb040"/>
<circle cx="302.8" cy="409.6" r="2.35" fill="#2fb040"/>
<circle cx="432.9" cy="302.9" r="2.35" fill="#d0062c"/>
<circle cx="431.8" cy="358.3" r="2.35" fill="#d0062c"/>
<circle cx="434.8" cy="360.8" r="2.35" fill="#d0062c"/>
<circle cx="432.0" cy="363.1" r="2.35" fill="#d0062c"/>
<circle cx="428.6" cy="372.6" r="2.35" fill="#d0062c"/>
<circle cx="432.0" cy="371.6" r="2.35" fill="#d0062c"/>
<circle cx="435.2" cy="370.7" r="2.35" fill="#d0062c"/>
<circle cx="437.7" cy="373.2" r="2.35" fill="#d0062c"/>
<circle cx="440.9" cy="370.1" r="2.35" fill="#d0062c"/>
<circle cx="433.3" cy="380.8" r="2.35" fill="#d0062c"/>
<circle cx="432.0" cy="385.5" r="2.35" fill="#d0062c"/>
<circle cx="428.6" cy="389.0" r="2.35" fill="#d0062c"/>
<circle cx="437.7" cy="387.2" r="2.35" fill="#d0062c"/>
<circle cx="440.9" cy="389.0" r="2.35" fill="#d0062c"/>
<circle cx="425.7" cy="391.3" r="2.35" fill="#d0062c"/>
<circle cx="437.7" cy="391.8" r="2.35" fill="#d0062c"/>
<circle cx="425.7" cy="396.0" r="2.35" fill="#d0062c"/>
<circle cx="428.6" cy="394.7" r="2.35" fill="#d0062c"/>
<circle cx="432.0" cy="396.4" r="2.35" fill="#d0062c"/>
<circle cx="428.6" cy="399.2" r="2.35" fill="#d0062c"/>
<circle cx="440.9" cy="396.0" r="2.35" fill="#d0062c"/>
<circle cx="437.7" cy="398.2" r="2.35" fill="#d0062c"/>
<circle cx="435.2" cy="399.8" r="2.35" fill="#d0062c"/>
<circle cx="433.3" cy="404.9" r="2.35" fill="#d0062c"/>
<circle cx="433.3" cy="409.6" r="2.35" fill="#d0062c"/>
<circle cx="462.1" cy="313.3" r="2.35" fill="#0c4788"/>
<circle cx="462.1" cy="343.1" r="2.35" fill="#0c4788"/>
<circle cx="460.2" cy="355.5" r="2.35" fill="#0c4788"/>
<circle cx="464.0" cy="354.5" r="2.35" fill="#0c4788"/>
<circle cx="467.0" cy="363.2" r="2.35" fill="#0c4788"/>
<circle cx="463.4" cy="364.4" r="2.35" fill="#0c4788"/>
<circle cx="460.4" cy="367.6" r="2.35" fill="#0c4788"/>
<circle cx="463.4" cy="372.0" r="2.35" fill="#0c4788"/>
<circle cx="457.5" cy="379.0" r="2.35" fill="#0c4788"/>
<circle cx="460.4" cy="382.2" r="2.35" fill="#0c4788"/>
<circle cx="466.7" cy="382.5" r="2.35" fill="#0c4788"/>
<circle cx="457.5" cy="384.7" r="2.35" fill="#0c4788"/>
<circle cx="463.4" cy="384.7" r="2.35" fill="#0c4788"/>
<circle cx="454.6" cy="390.4" r="2.35" fill="#0c4788"/>
<circle cx="454.3" cy="394.8" r="2.35" fill="#0c4788"/>
<circle cx="460.7" cy="394.8" r="2.35" fill="#0c4788"/>
<circle cx="469.8" cy="393.5" r="2.35" fill="#0c4788"/>
<circle cx="457.5" cy="398.0" r="2.35" fill="#0c4788"/>
<circle cx="466.7" cy="397.0" r="2.35" fill="#0c4788"/>
<circle cx="469.8" cy="397.7" r="2.35" fill="#0c4788"/>
<circle cx="460.7" cy="400.5" r="2.35" fill="#0c4788"/>
<circle cx="463.8" cy="398.6" r="2.35" fill="#0c4788"/>
<circle cx="466.7" cy="402.4" r="2.35" fill="#0c4788"/>
<circle cx="462.2" cy="407.5" r="2.35" fill="#0c4788"/>
<circle cx="491.2" cy="320.9" r="2.35" fill="#2fb040"/>
<circle cx="491.2" cy="353.2" r="2.35" fill="#2fb040"/>
<circle cx="487.4" cy="368.6" r="2.35" fill="#2fb040"/>
<circle cx="494.7" cy="368.2" r="2.35" fill="#2fb040"/>
<circle cx="490.9" cy="372.0" r="2.35" fill="#2fb040"/>
<circle cx="494.7" cy="372.9" r="2.35" fill="#2fb040"/>
<circle cx="490.9" cy="378.4" r="2.35" fill="#2fb040"/>
<circle cx="483.8" cy="382.2" r="2.35" fill="#2fb040"/>
<circle cx="487.4" cy="381.8" r="2.35" fill="#2fb040"/>
<circle cx="483.8" cy="386.8" r="2.35" fill="#2fb040"/>
<circle cx="487.4" cy="387.6" r="2.35" fill="#2fb040"/>
<circle cx="490.9" cy="386.0" r="2.35" fill="#2fb040"/>
<circle cx="494.7" cy="388.1" r="2.35" fill="#2fb040"/>
<circle cx="498.5" cy="387.6" r="2.35" fill="#2fb040"/>
<circle cx="483.8" cy="391.4" r="2.35" fill="#2fb040"/>
<circle cx="494.7" cy="393.2" r="2.35" fill="#2fb040"/>
<circle cx="498.5" cy="395.2" r="2.35" fill="#2fb040"/>
<circle cx="483.8" cy="397.0" r="2.35" fill="#2fb040"/>
<circle cx="487.4" cy="397.7" r="2.35" fill="#2fb040"/>
<circle cx="490.9" cy="396.7" r="2.35" fill="#2fb040"/>
<circle cx="494.7" cy="398.0" r="2.35" fill="#2fb040"/>
<circle cx="490.9" cy="401.1" r="2.35" fill="#2fb040"/>
<circle cx="487.4" cy="406.2" r="2.35" fill="#2fb040"/>
<circle cx="494.7" cy="404.9" r="2.35" fill="#2fb040"/>
<line x1="54.60" y1="158.00" x2="66.70" y2="158.00" stroke="#000" stroke-width="1.4"/>
<line x1="72.50" y1="175.40" x2="84.90" y2="175.40" stroke="#000" stroke-width="1.4"/>
<line x1="90.50" y1="159.30" x2="102.90" y2="159.30" stroke="#000" stroke-width="1.4"/>
<line x1="108.60" y1="152.10" x2="120.80" y2="152.10" stroke="#000" stroke-width="1.4"/>
<line x1="126.50" y1="154.40" x2="138.60" y2="154.40" stroke="#000" stroke-width="1.4"/>
<line x1="238.70" y1="169.30" x2="258.00" y2="169.30" stroke="#000" stroke-width="1.4"/>
<line x1="267.20" y1="161.40" x2="286.70" y2="161.40" stroke="#000" stroke-width="1.4"/>
<line x1="296.00" y1="171.40" x2="315.30" y2="171.40" stroke="#000" stroke-width="1.4"/>
<line x1="423.80" y1="176.00" x2="442.90" y2="176.00" stroke="#000" stroke-width="1.4"/>
<line x1="452.60" y1="156.90" x2="471.90" y2="156.90" stroke="#000" stroke-width="1.4"/>
<line x1="481.50" y1="164.90" x2="500.50" y2="164.90" stroke="#000" stroke-width="1.4"/>
<line x1="58.20" y1="420.80" x2="77.60" y2="420.80" stroke="#000" stroke-width="1.4"/>
<line x1="86.90" y1="400.20" x2="106.10" y2="400.20" stroke="#000" stroke-width="1.4"/>
<line x1="115.90" y1="423.40" x2="135.00" y2="423.40" stroke="#000" stroke-width="1.4"/>
<line x1="239.20" y1="357.70" x2="257.80" y2="357.70" stroke="#000" stroke-width="1.4"/>
<line x1="267.80" y1="347.70" x2="285.80" y2="347.70" stroke="#000" stroke-width="1.4"/>
<line x1="296.00" y1="385.80" x2="314.90" y2="385.80" stroke="#000" stroke-width="1.4"/>
<line x1="423.80" y1="382.10" x2="442.80" y2="382.10" stroke="#000" stroke-width="1.4"/>
<line x1="452.40" y1="380.30" x2="471.80" y2="380.30" stroke="#000" stroke-width="1.4"/>
<line x1="481.70" y1="383.80" x2="500.70" y2="383.80" stroke="#000" stroke-width="1.4"/>
<rect x="0.75" y="0.75" width="517.75" height="471.75" fill="none" stroke="#000" stroke-width="1.5"/>
<rect x="519" y="0" width="1" height="474" fill="#000"/>
<rect x="0" y="473" width="520" height="1" fill="#000"/>
</svg>
</body></html>
